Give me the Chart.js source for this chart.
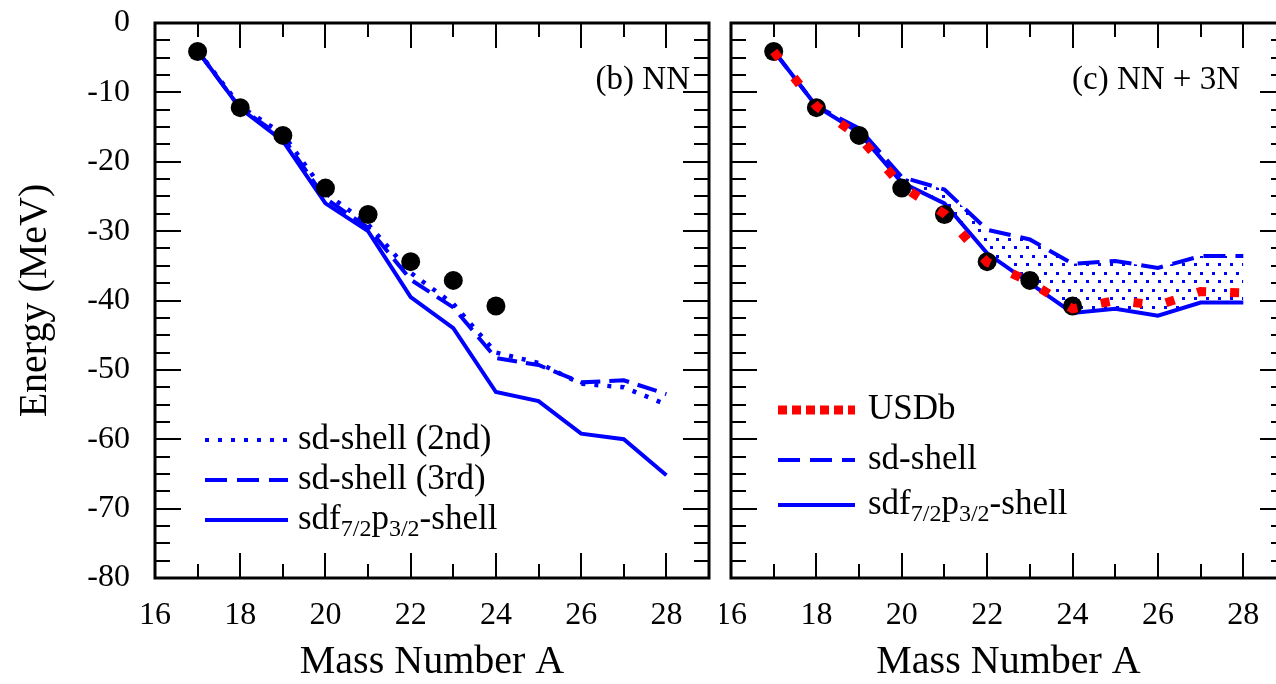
<!DOCTYPE html>
<html>
<head>
<meta charset="utf-8">
<script src="https://cdn.jsdelivr.net/npm/chart.js@4.4.1/dist/chart.umd.min.js"></script>
<style>
  html, body { margin: 0; padding: 0; background: #fff; }
  #wrap { position: relative; width: 1276px; height: 684px; overflow: hidden; }
  #chartB { position: absolute; left: 0; top: 0; }
  #chartC { position: absolute; left: 720px; top: 0; }
</style>
</head>
<body>
<div id="wrap">
  <canvas id="chartB" width="720" height="684"></canvas>
  <canvas id="chartC" width="576" height="684"></canvas>
</div>
<script>
// values
const massNumbers = [17, 18, 19, 20, 21, 22, 23, 24, 25, 26, 27, 28];
const expMass = [17, 18, 19, 20, 21, 22, 23, 24];
const expEnergy = [-4.1, -12.2, -16.2, -23.8, -27.6, -34.4, -37.1, -40.8];

// (b) NN
const nnSd2nd = [-4.0, -12.0, -16.0, -24.5, -29.0, -36.0, -40.5, -47.5, -49.0, -52.0, -52.5, -55.0];
const nnSd3rd = [-4.0, -12.3, -16.5, -25.3, -29.5, -37.0, -41.0, -48.3, -49.3, -51.8, -51.5, -53.5];
const nnSdf = [-4.0, -12.3, -17.0, -26.0, -30.0, -39.5, -44.0, -53.2, -54.5, -59.2, -60.0, -65.2];

// (c) NN + 3N
const usdb = [-4.1, -12.0, -16.4, -23.5, -27.5, -34.5, -37.3, -41.2, -40.0, -40.7, -38.7, -38.9];
const sd3N = [-4.0, -12.0, -15.2, -22.2, -24.0, -29.8, -31.2, -34.7, -34.3, -35.3, -33.6, -33.6];
const sdf3N = [-4.0, -12.0, -15.8, -23.0, -26.0, -33.2, -37.5, -41.8, -41.2, -42.2, -40.3, -40.3];

const xMin = 16, xMax = 29, yMin = -80, yMax = 0;
const FONT = '"Liberation Serif", "Times New Roman", serif';
const BLUE = '#0000ff';

function pts(xs, ys) {
    return xs.map((x, i) => ({ x: x, y: ys[i] }));
}

function dotPattern() {
    const c = document.createElement('canvas');
    c.width = 12; c.height = 17;
    const g = c.getContext('2d');
    g.fillStyle = BLUE;
    g.fillRect(0, 0, 3, 3);
    g.fillRect(6, 8, 3, 3);
    return g.createPattern(c, 'repeat');
}

// frame with inward ticks on all four sides
const framePlugin = {
    id: 'frame',
    afterDatasetsDraw(chart) {
        const { ctx, chartArea: a } = chart;
        const x = chart.scales.x, y = chart.scales.y;
        ctx.save();
        ctx.strokeStyle = '#000';
        ctx.lineWidth = 2;
        ctx.beginPath();
        for (let v = xMin + 1; v < xMax; v += 1) {
            const px = Math.round(x.getPixelForValue(v));
            const len = v % 2 === 0 ? 25 : 14;
            ctx.moveTo(px, a.bottom); ctx.lineTo(px, a.bottom - len);
            ctx.moveTo(px, a.top); ctx.lineTo(px, a.top + len);
        }
        for (let v = yMin + 2.5; v < yMax; v += 2.5) {
            const py = Math.round(y.getPixelForValue(v));
            const len = v % 10 === 0 ? 26 : 15;
            ctx.moveTo(a.left, py); ctx.lineTo(a.left + len, py);
            ctx.moveTo(a.right, py); ctx.lineTo(a.right - len, py);
        }
        ctx.stroke();
        ctx.lineWidth = 3;
        ctx.strokeRect(a.left, a.top, a.right - a.left, a.bottom - a.top);
        ctx.restore();
    }
};

function drawSample(ctx, type, x0, x1, yy) {
    ctx.save();
    ctx.beginPath();
    ctx.moveTo(x0, yy); ctx.lineTo(x1, yy);
    if (type === 'usdb') {
        ctx.strokeStyle = '#ff0000'; ctx.lineWidth = 9; ctx.setLineDash([9, 5]);
    } else {
        ctx.strokeStyle = BLUE;
        ctx.lineWidth = 4;
        if (type === 'dotted') ctx.setLineDash([4, 9]);
        if (type === 'dashed') ctx.setLineDash([22, 10]);
    }
    ctx.lineCap = 'butt';
    ctx.stroke();
    ctx.restore();
}

// text pieces: [text, isSubscript]
function drawRich(ctx, parts, x, yy, size) {
    let cx = x;
    parts.forEach(p => {
        const sub = p[1];
        ctx.font = (sub ? Math.round(size * 0.68) : size) + 'px ' + FONT;
        ctx.fillText(p[0], cx, sub ? yy + size * 0.28 : yy);
        cx += ctx.measureText(p[0]).width;
    });
}

const sdfLabel = [['sdf', false], ['7/2', true], ['p', false], ['3/2', true], ['-shell', false]];

const annotPlugin = {
    id: 'annot',
    afterDraw(chart, args, opts) {
        const ctx = chart.ctx;
        ctx.save();
        ctx.fillStyle = '#000';
        ctx.textBaseline = 'middle';
        (opts.items || []).forEach(it => {
            drawSample(ctx, it.type, it.x0, it.x1, it.y);
            drawRich(ctx, it.parts, it.tx, it.y, opts.size);
        });
        ctx.font = opts.panelSize + 'px ' + FONT;
        ctx.textAlign = 'right';
        ctx.fillText(opts.panel, opts.panelX, opts.panelY);
        ctx.restore();
    }
};

function axes(showY) {
    return {
        x: {
            type: 'linear', min: xMin, max: xMax,
            grid: { display: false }, border: { display: false },
            ticks: { stepSize: 2, includeBounds: false, color: '#000', padding: 10,
                     font: { family: FONT, size: 32 }, maxRotation: 0 },
            title: { display: true, text: 'Mass Number A', color: '#000',
                     font: { family: FONT, size: 40, lineHeight: 1 }, padding: { top: 0, bottom: 2 } },
            afterFit: s => { s.height = 106; s.paddingLeft = 0; s.paddingRight = 0; }
        },
        y: {
            type: 'linear', min: yMin, max: yMax, display: showY,
            grid: { display: false }, border: { display: false },
            ticks: { stepSize: 10, color: '#000', padding: 17, font: { family: FONT, size: 32 } },
            title: { display: true, text: 'Energy (MeV)', color: '#000',
                     font: { family: FONT, size: 40, lineHeight: 1 }, padding: { top: 15, bottom: 0 } },
            afterFit: s => { s.width = showY ? 155 : 0; s.paddingTop = 0; s.paddingBottom = 0; }
        }
    };
}

const expSet = {
    data: pts(expMass, expEnergy), showLine: false,
    pointRadius: 9.5, pointBackgroundColor: '#000', pointBorderWidth: 0
};

new Chart(document.getElementById('chartB'), {
    type: 'line',
    data: {
        datasets: [
            expSet,
            { data: pts(massNumbers, nnSd2nd), borderColor: BLUE, borderWidth: 4.5, borderDash: [4, 9], pointRadius: 0 },
            { data: pts(massNumbers, nnSd3rd), borderColor: BLUE, borderWidth: 4, borderDash: [20, 9], pointRadius: 0 },
            { data: pts(massNumbers, nnSdf), borderColor: BLUE, borderWidth: 4, pointRadius: 0 }
        ]
    },
    options: {
        responsive: false, animation: false, events: [],
        layout: { padding: { top: 23, right: 11, left: 0, bottom: 0 } },
        scales: axes(true),
        plugins: {
            legend: { display: false }, tooltip: { enabled: false },
            annot: {
                size: 35, panelSize: 33, panel: '(b) NN', panelX: 690, panelY: 80,
                items: [
                    { type: 'dotted', x0: 205, x1: 288, tx: 298, y: 440, parts: [['sd-shell (2nd)', false]] },
                    { type: 'dashed', x0: 205, x1: 288, tx: 298, y: 480, parts: [['sd-shell (3rd)', false]] },
                    { type: 'solid', x0: 205, x1: 288, tx: 298, y: 520, parts: sdfLabel }
                ]
            }
        }
    },
    plugins: [framePlugin, annotPlugin]
});

new Chart(document.getElementById('chartC'), {
    type: 'line',
    data: {
        datasets: [
            { data: pts(massNumbers, usdb), borderColor: '#ff0000', borderWidth: 9, borderDash: [9, 24],
              borderCapStyle: 'butt', pointRadius: 0 },
            Object.assign({}, expSet, { data: pts(expMass, expEnergy) }),
            { data: pts(massNumbers, sd3N), borderColor: BLUE, borderWidth: 4, borderDash: [22, 10], pointRadius: 0,
              fill: 3, backgroundColor: dotPattern() },
            { data: pts(massNumbers, sdf3N), borderColor: BLUE, borderWidth: 4, pointRadius: 0 }
        ]
    },
    options: {
        responsive: false, animation: false, events: [],
        layout: { padding: { top: 23, right: 10, left: 11, bottom: 0 } },
        scales: axes(false),
        plugins: {
            legend: { display: false }, tooltip: { enabled: false },
            filler: { propagate: false },
            annot: {
                size: 35, panelSize: 33, panel: '(c) NN + 3N', panelX: 520, panelY: 80,
                items: [
                    { type: 'usdb', x0: 58, x1: 135, tx: 148, y: 410, parts: [['USDb', false]] },
                    { type: 'dashed', x0: 58, x1: 135, tx: 148, y: 460, parts: [['sd-shell', false]] },
                    { type: 'solid', x0: 58, x1: 135, tx: 148, y: 505, parts: sdfLabel }
                ]
            }
        }
    },
    plugins: [framePlugin, annotPlugin]
});
</script>
</body>
</html>
